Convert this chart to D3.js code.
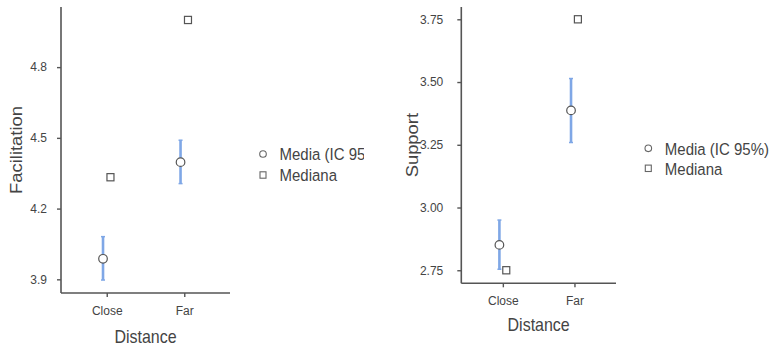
<!DOCTYPE html>
<html>
<head>
<meta charset="utf-8">
<script src="https://cdn.jsdelivr.net/npm/d3@7"></script>
<style>
  html, body { margin: 0; padding: 0; background: #fff; }
  svg { display: block; }
  text { font-family: "Liberation Sans", Arial, sans-serif; fill: #444; }
</style>
</head>
<body>
<svg id="chart" width="772" height="346"></svg>
<script>
// Categories on the x axis
const categories = ["Close", "Far"];

// Facilitation: mean, 95% CI and median per group
const facMean = [3.987, 4.397];
const facLow = [3.897, 4.306];
const facHigh = [4.081, 4.490];
const facMedian = [4.333, 5.000];
const facTicks = [3.9, 4.2, 4.5, 4.8];

// Support: mean, 95% CI and median per group
const supMean = [2.851, 3.387];
const supLow = [2.754, 3.259];
const supHigh = [2.950, 3.514];
const supMedian = [2.750, 3.750];
const supTicks = [2.75, 3.00, 3.25, 3.50, 3.75];

// Legend entries
const legendLabels = ["Media (IC 95%)", "Mediana"];

const svg = d3.select("#chart");
const TEXT_STRETCH = 1.15;
const ciColor = "#7fa7e6";
const markStroke = "#555";

// Place a text label with a slight vertical stretch
function label(g, x, y, str, opts) {
  const o = Object.assign({ size: 16, anchor: "middle", rotate: 0, baseline: "central" }, opts || {});
  return g.append("text")
    .attr("transform", `translate(${x},${y}) scale(1,${TEXT_STRETCH}) rotate(${o.rotate})`)
    .attr("text-anchor", o.anchor)
    .attr("dominant-baseline", o.baseline)
    .style("font-size", o.size + "px")
    .text(str);
}

function panel(cfg) {
  const g = svg.append("g");
  if (cfg.clip) {
    svg.append("clipPath").attr("id", cfg.id + "-clip")
      .append("rect").attr("x", cfg.clip[0]).attr("y", 0)
      .attr("width", cfg.clip[1] - cfg.clip[0]).attr("height", 346);
    g.attr("clip-path", `url(#${cfg.id}-clip)`);
  }

  const x = d3.scalePoint().domain(categories)
    .range([cfg.left, cfg.right]).padding(cfg.pad);
  const y = d3.scaleLinear().domain(cfg.domain).range([cfg.bottom, cfg.top]);
  const dodge = x.step() * 0.048;

  // y axis
  const yAxis = d3.axisLeft(y).tickValues(cfg.ticks)
    .tickFormat(d3.format(cfg.fmt)).tickSize(4).tickPadding(cfg.yPad);
  const ya = g.append("g").attr("transform", `translate(${cfg.left},0)`).call(yAxis);
  ya.select(".domain").attr("d", `M0,${cfg.top}V${cfg.bottom}`);

  // x axis
  const xAxis = d3.axisBottom(x).tickSize(4).tickPadding(9);
  const xa = g.append("g").attr("transform", `translate(0,${cfg.bottom})`).call(xAxis);
  xa.select(".domain").attr("d", `M${cfg.left},0H${cfg.right}`);

  [ya, xa].forEach(a => {
    a.select(".domain").attr("stroke", "#555").attr("stroke-width", 1.6);
    a.selectAll(".tick line").attr("stroke", "#555").attr("stroke-width", 1.4);
    a.selectAll(".tick text").attr("fill", "#555")
      .style("font-family", "'Liberation Sans', Arial, sans-serif")
      .style("font-size", "12px");
  });

  // Axis titles
  label(g, (cfg.left + cfg.right) / 2, cfg.xTitleY, "Distance", { size: 16 });
  label(g, cfg.yTitleX, (cfg.top + cfg.bottom) / 2, cfg.yTitle, { size: 16, rotate: -90 });

  const rows = categories.map((c, i) => ({
    c, mean: cfg.mean[i], lo: cfg.low[i], hi: cfg.high[i], med: cfg.median[i]
  }));

  // 95% CI bars
  const ci = g.append("g");
  rows.forEach(r => {
    const cx = x(r.c) - dodge;
    ci.append("line").attr("x1", cx).attr("x2", cx)
      .attr("y1", y(r.lo)).attr("y2", y(r.hi))
      .attr("stroke", ciColor).attr("stroke-width", 2.6);
    [r.lo, r.hi].forEach(v => {
      ci.append("line").attr("x1", cx - 2).attr("x2", cx + 2)
        .attr("y1", y(v)).attr("y2", y(v))
        .attr("stroke", ciColor).attr("stroke-width", 1.5);
    });
  });

  // Means
  g.append("g").selectAll("circle").data(rows).join("circle")
    .attr("cx", d => x(d.c) - dodge).attr("cy", d => y(d.mean))
    .attr("r", 4.3).attr("fill", "#fff")
    .attr("stroke", markStroke).attr("stroke-width", 1.2);

  // Medians
  g.append("g").selectAll("rect").data(rows).join("rect")
    .attr("x", d => x(d.c) + dodge - 3.5).attr("y", d => y(d.med) - 3.6)
    .attr("width", 7).attr("height", 7.2).attr("fill", "#fff")
    .attr("stroke", markStroke).attr("stroke-width", 1.2);

  // Legend
  const lg = g.append("g");
  lg.append("circle").attr("cx", cfg.legX).attr("cy", cfg.legY)
    .attr("r", 3.3).attr("fill", "#fff").attr("stroke", "#666").attr("stroke-width", 1.1);
  lg.append("rect").attr("x", cfg.legX - 3).attr("y", cfg.legY + cfg.legGap - 3.2)
    .attr("width", 6).attr("height", 6.4).attr("fill", "#fff").attr("stroke", "#666").attr("stroke-width", 1.1);
  legendLabels.forEach((t, i) => {
    label(lg, cfg.legX + 16.5, cfg.legY + i * cfg.legGap, t, { size: 15, anchor: "start" });
  });
}

panel({
  id: "fac", left: 61, right: 230, top: 7, bottom: 293, pad: 0.59,
  domain: [3.842, 5.055], ticks: facTicks, fmt: ".1f", yPad: 10,
  mean: facMean, low: facLow, high: facHigh, median: facMedian,
  yTitle: "Facilitation", yTitleX: 16, xTitleY: 336.5,
  legX: 263, legY: 154, legGap: 21, clip: [0, 364]
});

panel({
  id: "sup", left: 461.3, right: 616, top: 7, bottom: 283.3, pad: 0.58,
  domain: [2.698, 3.799], ticks: supTicks, fmt: ".2f", yPad: 14,
  mean: supMean, low: supLow, high: supHigh, median: supMedian,
  yTitle: "Support", yTitleX: 412, xTitleY: 325,
  legX: 648.3, legY: 148.3, legGap: 20
});
</script>
</body>
</html>
